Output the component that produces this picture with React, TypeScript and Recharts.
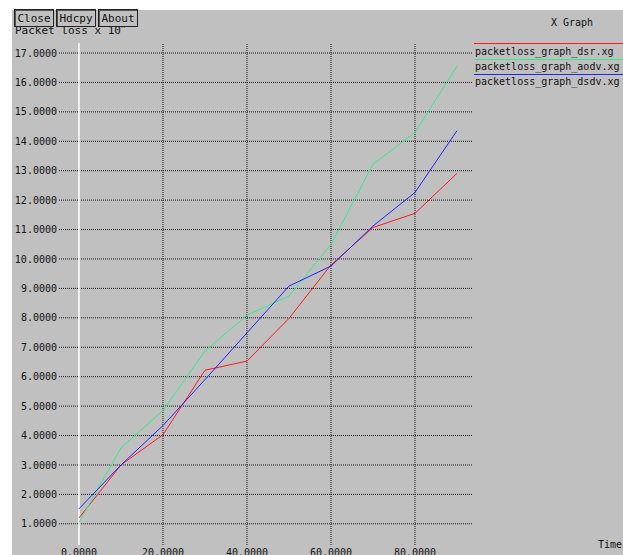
import { LineChart, Line, XAxis, YAxis, ReferenceLine } from "recharts"

// simulation time (s)
const time = [0, 10, 20, 30, 40, 50, 60, 70, 80, 90]
// packet loss per protocol
const dsr = [1.2, 3.0, 4.03, 6.22, 6.53, 7.98, 9.8, 11.07, 11.55, 12.91]
const aodv = [1.05, 3.58, 4.85, 6.87, 8.09, 8.74, 10.5, 13.22, 14.3, 16.55]
const dsdv = [1.51, 3.0, 4.34, 5.9, 7.49, 9.08, 9.76, 11.12, 12.26, 14.36]

const xTicks = [0, 20, 40, 60, 80]
const yTicks = [1, 2, 3, 4, 5, 6, 7, 8, 9, 10, 11, 12, 13, 14, 15, 16, 17]

const legend = [
  { name: "packetloss_graph_dsr.xg", color: "#ff1a1a" },
  { name: "packetloss_graph_aodv.xg", color: "#33ee88" },
  { name: "packetloss_graph_dsdv.xg", color: "#2222ff" },
]

const data = time.map((t, i) => ({ t, dsr: dsr[i], aodv: aodv[i], dsdv: dsdv[i] }))

const FONT = "'DejaVu Sans Mono', monospace"
const BG = "#c0c0c0"

function XTick(props: any) {
  const { x, payload } = props
  return (
    <text x={x} y={556} textAnchor="middle" fontFamily={FONT} fontSize={10} fill="#111">
      {payload.value.toFixed(4)}
    </text>
  )
}

function YTick(props: any) {
  const { y, payload } = props
  return (
    <text x={57} y={y + 3.6} textAnchor="end" fontFamily={FONT} fontSize={10} fill="#111">
      {payload.value.toFixed(4)}
    </text>
  )
}

function Button({ label, left, width }: { label: string; left: number; width: number }) {
  return (
    <div
      style={{
        position: "absolute",
        left,
        top: 9,
        width: width - 2,
        height: 16,
        border: "1px solid #222",
        boxShadow: "inset 1px 1px 0 #555",
        background: BG,
        fontFamily: FONT,
        fontSize: 11,
        lineHeight: "17px",
        textAlign: "center",
        color: "#111",
      }}
    >
      {label}
    </div>
  )
}

export default function App() {
  // legend line y positions and text baselines
  const lineY = [43, 59, 74]
  const textY = [55, 69.5, 85]
  return (
    <div style={{ position: "absolute", left: 0, top: 0, width: 623, height: 555, background: "#fff", overflow: "hidden" }}>
      <div style={{ position: "absolute", left: 12, top: 10, width: 611, height: 545, background: BG }} />

      <svg width={623} height={555} style={{ position: "absolute", left: 0, top: 0 }}>
        <text x={15} y={34} fontFamily={FONT} fontSize={11} fill="#111">
          Packet loss x 10<tspan fontSize={7} dy={-3}>^</tspan>
        </text>
        <text x={551} y={25.5} fontFamily={FONT} fontSize={10} fill="#111">X Graph</text>
        <text x={598} y={548} fontFamily={FONT} fontSize={10} fill="#111">Time</text>
        {legend.map((l, i) => (
          <g key={l.name}>
            <line x1={474} x2={623} y1={lineY[i] + 0.5} y2={lineY[i] + 0.5} stroke={l.color} strokeWidth={1} />
            <text x={475} y={textY[i]} fontFamily={FONT} fontSize={10} fill="#111">{l.name}</text>
          </g>
        ))}
      </svg>

      <div style={{ position: "absolute", left: 0, top: 0 }}>
        <LineChart width={623} height={555} data={data} margin={{ top: 43, right: 151, left: 0, bottom: 0 }}>
          <XAxis
            dataKey="t"
            type="number"
            domain={[-4.76, 93.57]}
            allowDataOverflow
            ticks={xTicks}
            height={10}
            axisLine={false}
            tickLine={false}
            tick={<XTick />}
            interval={0}
          />
          <YAxis
            type="number"
            domain={[0.28, 17.34]}
            allowDataOverflow
            ticks={yTicks}
            width={59}
            axisLine={false}
            tickLine={false}
            tick={<YTick />}
            interval={0}
          />
          {yTicks.map((v) => (
            <ReferenceLine key={`h${v}`} y={v} stroke="#111" strokeDasharray="1 1" />
          ))}
          {xTicks.filter((t) => t !== 0).map((t) => (
            <ReferenceLine key={`v${t}`} x={t} stroke="#111" strokeDasharray="1 1" />
          ))}
          <ReferenceLine x={0} stroke="#ffffff" strokeWidth={1.5} />
          <Line type="linear" dataKey="dsr" stroke={legend[0].color} strokeWidth={1} dot={false} isAnimationActive={false} />
          <Line type="linear" dataKey="aodv" stroke={legend[1].color} strokeWidth={1} dot={false} isAnimationActive={false} />
          <Line type="linear" dataKey="dsdv" stroke={legend[2].color} strokeWidth={1} dot={false} isAnimationActive={false} />
        </LineChart>
      </div>

      <Button label="Close" left={14} width={40} />
      <Button label="Hdcpy" left={56} width={40} />
      <Button label="About" left={98} width={40} />
    </div>
  )
}
